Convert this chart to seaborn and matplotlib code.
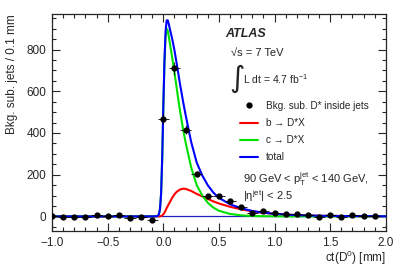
import numpy as np
import matplotlib
matplotlib.use("Agg")
import matplotlib.pyplot as plt
from matplotlib.ticker import MultipleLocator
from matplotlib.lines import Line2D
import seaborn as sns

# measured points (bin centres, 0.1 mm bins)
bin_x = [-1.0, -0.9, -0.8, -0.7, -0.6, -0.5, -0.4, -0.3, -0.2, -0.1,
         0.0, 0.1, 0.2, 0.3, 0.4, 0.5, 0.6, 0.7, 0.8, 0.9,
         1.0, 1.1, 1.2, 1.3, 1.4, 1.5, 1.6, 1.7, 1.8, 1.9]
counts = [0, -3, -3, -3, 8, 2, 6, -6, -5, -18,
          469, 710, 415, 205, 99, 98, 72, 47, 18, 26,
          16, 11, 11, 8, -3, 8, -3, 6, 3, 3]
count_err = [5, 5, 5, 5, 6, 5, 6, 6, 6, 8,
             25, 32, 22, 15, 10, 10, 9, 8, 6, 6,
             6, 5, 5, 5, 5, 5, 5, 5, 5, 5]
bin_half = 0.05

# fitted curves
curve_x = [-1.0, -0.2, -0.1, -0.08, -0.06, -0.05, -0.04, -0.03, -0.02, -0.01,
           0.0, 0.01, 0.02, 0.03, 0.04, 0.05, 0.06, 0.08, 0.1, 0.12,
           0.15, 0.18, 0.2, 0.25, 0.3, 0.35, 0.4, 0.45, 0.5, 0.6,
           0.7, 0.8, 0.9, 1.0, 1.2, 1.4, 1.6, 2.0]
b_curve = [0, 0, 0, 0, 0, 0, 0, 0.5, 2, 5,
           10, 18, 28, 40, 50, 60, 70, 90, 106, 118,
           129, 133, 132, 122, 108, 96, 84, 72, 62, 46,
           34, 24, 17, 12, 6, 3, 2, 0.5]
c_curve = [0, 0, 0, 0.5, 1, 3, 10, 35, 110, 280,
           520, 730, 860, 900, 890, 860, 825, 760, 690, 615,
           505, 410, 355, 235, 150, 100, 65, 42, 27, 12,
           5, 2, 1, 0.5, 0, 0, 0, 0]
total_curve = [0, 0, 0, 0.5, 1, 3, 10, 36, 112, 285,
               530, 748, 888, 940, 940, 920, 895, 850, 796, 733,
               634, 543, 487, 357, 258, 196, 149, 114, 89, 58,
               39, 26, 18, 12.5, 6, 3, 2, 0.5]

sns.set_style("ticks")
plt.rcParams["font.family"] = ["Liberation Sans", "DejaVu Sans"]
plt.rcParams["mathtext.default"] = "regular"

fig = plt.figure(figsize=(4.07, 2.76), dpi=100)
ax = fig.add_axes([0.128, 0.163, 0.820, 0.786])

ax.axhline(0, color="#2020c0", lw=0.9, zorder=1)
sns.lineplot(x=curve_x, y=b_curve, color="#ff0000", lw=1.5, ax=ax, zorder=2)
sns.lineplot(x=curve_x, y=c_curve, color="#00e000", lw=1.5, ax=ax, zorder=3)
sns.lineplot(x=curve_x, y=total_curve, color="#0000ff", lw=1.5, ax=ax, zorder=4)
ax.errorbar(bin_x, counts, yerr=count_err, xerr=bin_half, fmt="o", color="black",
            ms=3.5, elinewidth=0.6, capsize=0, zorder=5)

ax.set_xlim(-1, 2)
ax.set_ylim(-70, 970)
ax.xaxis.set_major_locator(MultipleLocator(0.5))
ax.xaxis.set_minor_locator(MultipleLocator(0.1))
ax.yaxis.set_major_locator(MultipleLocator(200))
ax.yaxis.set_minor_locator(MultipleLocator(50))
ax.tick_params(which="both", direction="in", top=True, right=True, labelsize=8.5, width=0.8)
ax.tick_params(which="major", length=6, pad=4)
ax.tick_params(which="minor", length=3)
for s in ax.spines.values():
    s.set_linewidth(0.9)

ax.set_xlabel("ct(D$^{0}$) [mm]", fontsize=8.5, loc="right", labelpad=0)
ax.set_ylabel("Bkg. sub. jets / 0.1 mm", fontsize=8.5, loc="top", labelpad=6)

tx = ax.transAxes
ax.text(0.518, 0.91, "ATLAS", transform=tx, fontsize=9, fontweight="bold",
        style="italic", va="center")
ax.text(0.535, 0.82, "\u221as = 7 TeV", transform=tx, fontsize=8, va="center")
ax.text(0.530, 0.70, "$\\int$", transform=tx, fontsize=15, va="center")
ax.text(0.572, 0.70, "L dt = 4.7 fb$^{-1}$", transform=tx, fontsize=7.5, va="center")
ax.text(0.573, 0.238, "90 GeV < p$_{T}^{jet}$ < 140 GeV,", transform=tx, fontsize=8, va="center")
ax.text(0.573, 0.16, "|\u03b7$^{jet}$| < 2.5", transform=tx, fontsize=8, va="center")

handles = [
    Line2D([], [], marker="o", ls="none", color="black", ms=3.5),
    Line2D([], [], color="#ff0000", lw=1.5),
    Line2D([], [], color="#00e000", lw=1.5),
    Line2D([], [], color="#0000ff", lw=1.5),
]
labels = ["Bkg. sub. D* inside jets", "b \u2192 D*X", "c \u2192 D*X", "total"]
ax.legend(handles, labels, loc="upper left", bbox_to_anchor=(0.563, 0.60),
          frameon=False, fontsize=7.2, handlelength=1.8, handletextpad=0.8,
          labelspacing=0.72, borderaxespad=0, borderpad=0)

fig.savefig("out.png", dpi=100)
